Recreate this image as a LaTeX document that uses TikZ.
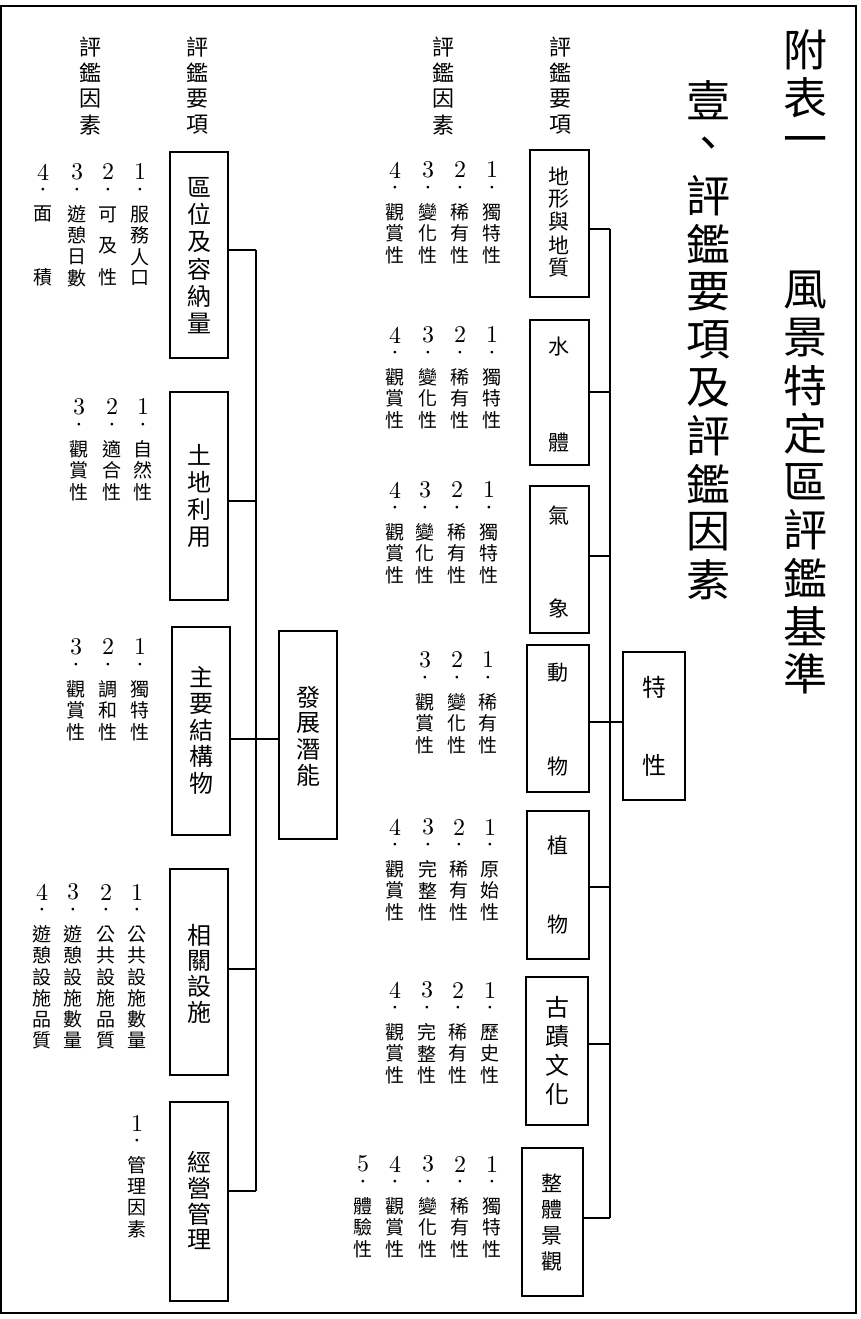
\documentclass[tikz,border=0pt]{standalone}
\usepackage{fontspec}
\newfontfamily\cjk{Noto Sans CJK TC}
\newfontfamily\digfont{lmroman10-regular}[Extension=.otf]
\tikzset{
  fc/.style={inner sep=0pt, font=\cjk\fontsize{19}{20}\selectfont},
  dg/.style={inner sep=0pt, font=\digfont\fontsize{24}{25}\selectfont},
  dt/.style={inner sep=0pt, font=\digfont\fontsize{26}{27}\selectfont},
  hd/.style={inner sep=0pt, font=\cjk\fontsize{22}{24}\selectfont},
  bt/.style={inner sep=0pt, font=\cjk\fontsize{24}{26}\selectfont},
  bs/.style={inner sep=0pt, font=\cjk\fontsize{21}{23}\selectfont},
  tt/.style={inner sep=0pt, font=\cjk\fontsize{44}{46}\selectfont},
  bx/.style={draw, line width=1.6pt, inner sep=0pt},
  ln/.style={line width=1.6pt},
  frame/.style={draw, line width=2pt}
}
\newcommand\vtext[6]{\foreach \ch [count=\k] in {#6} {\node[#2] (#1-\k) at (#3,{#4+(\k-1)*#5}) {\ch};}}
\newcommand\fcol[5]{%
  \node[dg] (#1-n) at (#2,#3) {#4};
  \node[dt] (#1-d) at (#2,{#3+21}) {·};
  \foreach \ch [count=\k] in {#5} {\node[fc] (#1-\k) at (#2,{#3+21+\k*21.3}) {\ch};}}
\newcommand\bx[5]{\node[bx, minimum width={#4-#2}, minimum height={#5-#3}] (#1) at ({(#2+#4)/2},{(#3+#5)/2}) {};}
\begin{document}
\begin{tikzpicture}[x=1pt,y=-1pt]
\useasboundingbox (0,0) rectangle (861,1319);
\node[frame, minimum width=855, minimum height=1307, inner sep=0pt] (frame) at (428.5,659.5) {};

% titles
\vtext{ta}{tt}{805}{50}{48}{附,表,一}
\vtext{tb}{tt}{805}{290}{48}{風,景,特,定,區,評,鑑,基,準}
\vtext{tc}{tt}{708}{100}{48}{壹,、,評,鑑,要,項,及,評,鑑,因,素}

% headers
\vtext{h1}{hd}{90}{47}{26}{評,鑑,因,素}
\vtext{h2}{hd}{197}{47}{26}{評,鑑,要,項}
\vtext{h3}{hd}{443}{47}{26}{評,鑑,因,素}
\vtext{h4}{hd}{560}{47}{26}{評,鑑,要,項}

% ---------- left side boxes ----------
\bx{l1}{170}{152}{228}{358}
\bx{l2}{170}{392}{228}{600}
\bx{l3}{172}{627}{230}{835}
\bx{l4}{170}{869}{228}{1075}
\bx{l5}{170}{1102}{228}{1301}
\bx{dev}{279}{631}{337}{839}

\vtext{l1t}{bt}{199}{187}{27.3}{區,位,及,容,納,量}
\vtext{l2t}{bt}{199}{455}{27.3}{土,地,利,用}
\vtext{l3t}{bt}{201}{677}{26.5}{主,要,結,構,物}
\vtext{l4t}{bt}{199}{935}{25.7}{相,關,設,施}
\vtext{l5t}{bt}{199}{1162}{26}{經,營,管,理}
\vtext{devt}{bt}{308}{697}{26}{發,展,潛,能}

% left connectors
\coordinate (lt1) at (256,250);
\coordinate (lt2) at (256,501);
\coordinate (lt3) at (256,739);
\coordinate (lt4) at (256,969);
\coordinate (lt5) at (256,1191);
\draw[ln] (lt1) -- (lt5);
\draw[ln] (l1.east |- lt1) -- (lt1);
\draw[ln] (l2.east |- lt2) -- (lt2);
\draw[ln] (l3.east |- lt3) -- (dev.west |- lt3);
\draw[ln] (l4.east |- lt4) -- (lt4);
\draw[ln] (l5.east |- lt5) -- (lt5);

% ---------- right side boxes ----------
\bx{r1}{530}{150}{589}{297}
\bx{r2}{530}{320}{589}{465}
\bx{r3}{530}{486}{589}{633}
\bx{r4}{527}{645}{589}{792}
\bx{r5}{527}{811}{589}{959}
\bx{r6}{526}{977}{588}{1125}
\bx{r7}{522}{1148}{583}{1296}
\bx{ch}{623}{652}{685}{800}

\vtext{r1t}{bs}{559}{176}{23}{地,形,與,地,質}
\node[bs] (r2a) at (559,347) {水};
\node[bs] (r2b) at (559,443) {體};
\node[bs] (r3a) at (559,515) {氣};
\node[bs] (r3b) at (559,608) {象};
\node[bs] (r4a) at (558,673) {動};
\node[bs] (r4b) at (558,767) {物};
\node[bs] (r5a) at (558,845) {植};
\node[bs] (r5b) at (558,925) {物};
\vtext{r6t}{bt}{557}{1007}{29.3}{古,蹟,文,化}
\vtext{r7t}{bs}{552}{1183}{26.3}{整,體,景,觀}
\node[bt] (cha) at (654,687) {特};
\node[bt] (chb) at (654,765) {性};

% right connectors
\coordinate (rt1) at (610,229);
\coordinate (rt2) at (610,392);
\coordinate (rt3) at (610,556);
\coordinate (rt4) at (610,722);
\coordinate (rt5) at (610,887);
\coordinate (rt6) at (610,1044);
\coordinate (rt7) at (610,1218);
\draw[ln] (rt1) -- (rt7);
\draw[ln] (r1.east |- rt1) -- (rt1);
\draw[ln] (r2.east |- rt2) -- (rt2);
\draw[ln] (r3.east |- rt3) -- (rt3);
\draw[ln] (r4.east |- rt4) -- (ch.west |- rt4);
\draw[ln] (r5.east |- rt5) -- (rt5);
\draw[ln] (r6.east |- rt6) -- (rt6);
\draw[ln] (r7.east |- rt7) -- (rt7);

% ---------- left factors ----------
\fcol{a1}{140}{172}{1}{服,務,人,口}
\node[dg] (a2-n) at (108,172) {2};
\node[dt] (a2-d) at (108,193) {·};
\node[fc] (a2-1) at (108,215) {可};
\node[fc] (a2-2) at (108,246) {及};
\node[fc] (a2-3) at (108,277) {性};
\fcol{a3}{77}{172}{3}{遊,憩,日,數}
\node[dg] (a4-n) at (43,172) {4};
\node[dt] (a4-d) at (43,193) {·};
\node[fc] (a4-1) at (43,214) {面};
\node[fc] (a4-2) at (43,277) {積};

\fcol{b1}{143}{407}{1}{自,然,性}
\fcol{b2}{112}{407}{2}{適,合,性}
\fcol{b3}{79}{407}{3}{觀,賞,性}

\fcol{c1}{140}{647}{1}{獨,特,性}
\fcol{c2}{108}{647}{2}{調,和,性}
\fcol{c3}{76}{647}{3}{觀,賞,性}

\fcol{d1}{137}{892}{1}{公,共,設,施,數,量}
\fcol{d2}{106}{892}{2}{公,共,設,施,品,質}
\fcol{d3}{73}{892}{3}{遊,憩,設,施,數,量}
\fcol{d4}{42}{892}{4}{遊,憩,設,施,品,質}

\fcol{e1}{137}{1123}{1}{管,理,因,素}

% ---------- right factors ----------
\fcol{fa1}{492}{170}{1}{獨,特,性}
\fcol{fa2}{460}{170}{2}{稀,有,性}
\fcol{fa3}{428}{170}{3}{變,化,性}
\fcol{fa4}{395}{170}{4}{觀,賞,性}

\fcol{fb1}{492}{335}{1}{獨,特,性}
\fcol{fb2}{460}{335}{2}{稀,有,性}
\fcol{fb3}{428}{335}{3}{變,化,性}
\fcol{fb4}{395}{335}{4}{觀,賞,性}

\fcol{fc1}{489}{490}{1}{獨,特,性}
\fcol{fc2}{457}{490}{2}{稀,有,性}
\fcol{fc3}{425}{490}{3}{變,化,性}
\fcol{fc4}{395}{490}{4}{觀,賞,性}

\fcol{fd1}{488}{660}{1}{稀,有,性}
\fcol{fd2}{457}{660}{2}{變,化,性}
\fcol{fd3}{425}{660}{3}{觀,賞,性}

\fcol{fe1}{490}{827}{1}{原,始,性}
\fcol{fe2}{459}{827}{2}{稀,有,性}
\fcol{fe3}{428}{827}{3}{完,整,性}
\fcol{fe4}{395}{827}{4}{觀,賞,性}

\fcol{ff1}{490}{990}{1}{歷,史,性}
\fcol{ff2}{458}{990}{2}{稀,有,性}
\fcol{ff3}{427}{990}{3}{完,整,性}
\fcol{ff4}{395}{990}{4}{觀,賞,性}

\fcol{fg1}{492}{1164}{1}{獨,特,性}
\fcol{fg2}{460}{1164}{2}{稀,有,性}
\fcol{fg3}{428}{1164}{3}{變,化,性}
\fcol{fg4}{395}{1164}{4}{觀,賞,性}
\fcol{fg5}{363}{1164}{5}{體,驗,性}
\end{tikzpicture}
\end{document}
